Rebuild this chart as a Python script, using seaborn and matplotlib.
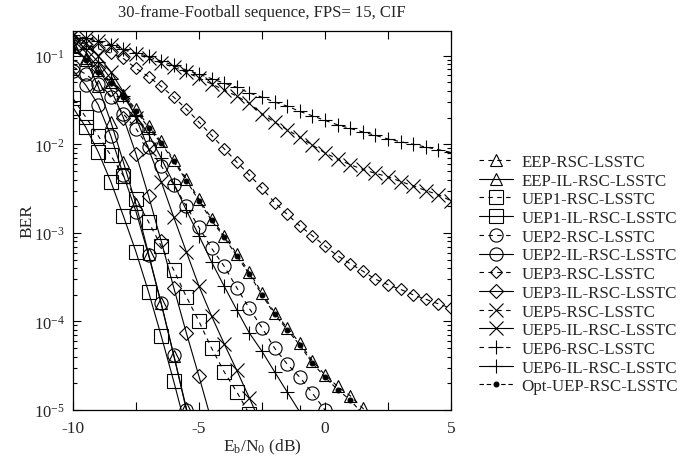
import numpy as np
import matplotlib
matplotlib.use("Agg")
import matplotlib.pyplot as plt
from matplotlib.ticker import FixedLocator, LogLocator, NullFormatter
import seaborn as sns

# Eb/N0 grid (dB), 0.5 dB steps
ebno = np.arange(-10, 5.01, 0.5)

# BER values
eep = [0.125, 0.093, 0.069, 0.051, 0.036, 0.025, 0.016, 0.0108, 6.7e-3, 4.1e-3,
       2.4e-3, 1.45e-3, 9.3e-4, 5.8e-4, 3.6e-4, 2.1e-4, 1.26e-4, 8.5e-5, 5.7e-5,
       3.6e-5, 2.5e-5, 1.85e-5, 1.45e-5, 1.05e-5, 7.5e-6]
eep_il = [0.13, 0.09, 0.045, 0.018, 6.3e-3, 2.1e-3, 5.8e-4, 1.6e-4, 4.1e-5, 1.05e-5, 2.5e-6]
uep1 = [0.033, 0.0204, 0.0125, 7.5e-3, 4.4e-3, 2.4e-3, 1.33e-3, 7.1e-4, 3.8e-4, 1.9e-4,
        1.0e-4, 5.0e-5, 2.7e-5, 1.6e-5, 9e-6]
uep1_il = [0.026, 0.0157, 8.2e-3, 3.8e-3, 1.55e-3, 6.1e-4, 2.15e-4, 6.9e-5, 2.1e-5, 6e-6]
uep2 = [0.075, 0.062, 0.048, 0.034, 0.022, 0.015, 9.3e-3, 5.7e-3, 3.5e-3, 2.0e-3,
        1.15e-3, 6.7e-4, 4.2e-4, 2.4e-4, 1.4e-4, 8.5e-5, 5.0e-5, 3.3e-5, 2.35e-5,
        1.55e-5, 1.0e-5]
uep2_il = [0.068, 0.047, 0.028, 0.0125, 4.5e-3, 1.74e-3, 5.6e-4, 1.6e-4, 4.2e-5, 1.0e-5, 2.4e-6]
uep3 = [0.151, 0.135, 0.120, 0.107, 0.093, 0.072, 0.058, 0.045, 0.034, 0.025,
        0.0178, 0.0126, 0.0089, 0.0063, 0.0045, 0.0032, 0.0022, 0.00162, 0.0012,
        9.3e-4, 7.1e-4, 5.5e-4, 4.5e-4, 3.7e-4, 3.0e-4, 2.6e-4, 2.3e-4, 2.0e-4,
        1.78e-4, 1.58e-4, 1.41e-4]
uep3_il = [0.15, 0.11, 0.072, 0.042, 0.02, 7.8e-3, 2.6e-3, 8.1e-4, 2.4e-4, 7.4e-5, 2.4e-5, 7.5e-6]
uep5 = [0.170, 0.158, 0.145, 0.132, 0.117, 0.105, 0.093, 0.083, 0.074, 0.065,
        0.056, 0.048, 0.041, 0.035, 0.029, 0.022, 0.0178, 0.0146, 0.0120, 0.0098,
        0.0080, 0.0068, 0.0059, 0.0052, 0.0047, 0.0043, 0.0038, 0.0034, 0.0030,
        0.0027, 0.0023]
uep5_il = [0.17, 0.14, 0.10, 0.066, 0.039, 0.02, 8.8e-3, 3.8e-3, 1.5e-3, 6.1e-4,
           2.5e-4, 1.15e-4, 5.6e-5, 2.8e-5, 1.37e-5, 6.5e-6]
uep6 = [0.170, 0.158, 0.145, 0.132, 0.120, 0.107, 0.098, 0.087, 0.078, 0.069,
        0.062, 0.055, 0.049, 0.044, 0.038, 0.034, 0.030, 0.027, 0.0235, 0.021,
        0.0186, 0.0166, 0.0151, 0.0138, 0.0126, 0.0115, 0.0107, 0.0100, 0.0093,
        0.0087, 0.0081]
uep6_il = [0.16, 0.12, 0.085, 0.055, 0.035, 0.021, 0.013, 7.0e-3, 3.6e-3, 1.8e-3,
           9.3e-4, 4.7e-4, 2.5e-4, 1.35e-4, 7.4e-5, 4.6e-5, 2.7e-5, 1.6e-5, 9.5e-6]
opt = [0.12, 0.089, 0.066, 0.049, 0.034, 0.024, 0.0153, 0.0103, 6.4e-3, 3.9e-3,
       2.3e-3, 1.38e-3, 8.9e-4, 5.5e-4, 3.4e-4, 2.0e-4, 1.2e-4, 8.1e-5, 5.4e-5,
       3.4e-5, 2.35e-5, 1.7e-5, 1.3e-5, 9e-6]

labels = ["EEP-RSC-LSSTC", "EEP-IL-RSC-LSSTC", "UEP1-RSC-LSSTC", "UEP1-IL-RSC-LSSTC",
          "UEP2-RSC-LSSTC", "UEP2-IL-RSC-LSSTC", "UEP3-RSC-LSSTC", "UEP3-IL-RSC-LSSTC",
          "UEP5-RSC-LSSTC", "UEP5-IL-RSC-LSSTC", "UEP6-RSC-LSSTC", "UEP6-IL-RSC-LSSTC",
          "Opt-UEP-RSC-LSSTC"]
series = [eep, eep_il, uep1, uep1_il, uep2, uep2_il, uep3, uep3_il,
          uep5, uep5_il, uep6, uep6_il, opt]

dash = (0, (4, 4))
styles = [
    ("^", 9, dash), ("^", 9, "-"),
    ("s", 9.5, dash), ("s", 9.5, "-"),
    ("o", 9.5, dash), ("o", 9.5, "-"),
    ("D", 6.5, dash), ("D", 7, "-"),
    ("x", 10, dash), ("x", 10, "-"),
    ("+", 10, dash), ("+", 10, "-"),
    (".", 7, (0, (4, 2.5))),
]

sns.set_style("ticks")
plt.rcParams["font.family"] = ["Liberation Serif", "DejaVu Serif"]
plt.rcParams["mathtext.fontset"] = "custom"
plt.rcParams["mathtext.rm"] = "Liberation Serif"
plt.rcParams["mathtext.it"] = "Liberation Serif:italic"
plt.rcParams["mathtext.default"] = "regular"
plt.rcParams["axes.unicode_minus"] = False

fig = plt.figure(figsize=(6.97, 4.64), dpi=100)
ax = fig.add_axes([0.1047, 0.1142, 0.5423, 0.8168])

for lab, y, (m, ms, ls) in zip(labels, series, styles):
    x = ebno[:len(y)]
    filled = m == "."
    sns.lineplot(x=x, y=y, ax=ax, color="k", linewidth=0.8, linestyle=ls,
                 marker=m, markersize=ms,
                 markerfacecolor="k" if filled else "none",
                 markeredgecolor="k", markeredgewidth=0.8,
                 label=lab, legend=False, estimator=None, sort=False)

ax.set_yscale("log")
ax.set_xlim(-10, 5)
ax.set_ylim(1e-5, 0.19)
ax.xaxis.set_major_locator(FixedLocator([-10, -5, 0, 5]))
ax.xaxis.set_minor_locator(FixedLocator([-7.5, -2.5, 2.5]))
ax.yaxis.set_major_locator(LogLocator(base=10, numticks=10))
ax.yaxis.set_minor_locator(LogLocator(base=10, subs=np.arange(2, 10), numticks=10))
ax.yaxis.set_minor_formatter(NullFormatter())
ax.tick_params(which="both", direction="in", top=True, right=True, labelsize=12.5,
               width=0.8, color="k")
ax.tick_params(which="major", length=6)
ax.tick_params(axis="x", which="minor", length=6)
ax.tick_params(axis="x", which="both", pad=7)
ax.tick_params(axis="y", which="both", pad=6, labelsize=12)
ax.tick_params(axis="y", which="minor", length=3)
for sp in ax.spines.values():
    sp.set_linewidth(0.9)
    sp.set_color("k")

ax.set_title("30-frame-Football sequence, FPS= 15, CIF", fontsize=12, pad=11)
ax.set_xlabel(r"E$_{\rm b}$/N$_0$ (dB)", fontsize=12.5, labelpad=1)
ax.set_ylabel("BER", fontsize=12.5, labelpad=-1)

handles, labs = ax.get_legend_handles_labels()
fig.legend(handles, labs, loc="center left", bbox_to_anchor=(0.675, 0.407),
           frameon=False, fontsize=12.2, numpoints=1, handlelength=2.0,
           handletextpad=0.5, labelspacing=0.16, borderpad=0)

fig.savefig("out.png", dpi=100)
